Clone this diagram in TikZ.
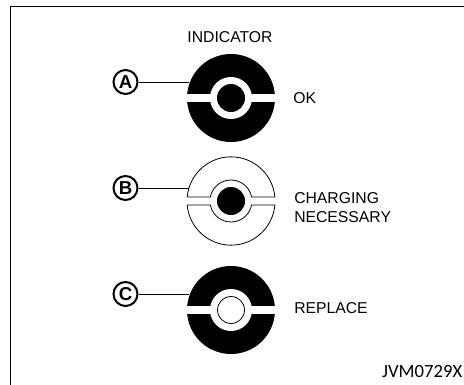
\documentclass[tikz,border=0pt]{standalone}
\usepackage{fontspec}
\setmainfont{Liberation Sans}
\newfontfamily\codefont{Carlito}
\usetikzlibrary{calc}
\tikzset{
	tag/.style={circle, draw, line width=1.5pt, inner sep=0pt, minimum size=18pt, font=\fontsize{14pt}{14pt}\selectfont\bfseries},
	lbl/.style={align=left, anchor=west, inner sep=0pt, font=\fontsize{11.8pt}{14pt}\selectfont},
	wire/.style={line width=0.6pt}
}
% black indicator with white band and ring
\newcommand{\solidEye}[1]{
	\fill[black] (#1) circle (44);
	\fill[white] ($(#1)+(-46,-4.2)$) rectangle ($(#1)+(46,4.2)$);
	\fill[white] (#1) circle (21);
}
\begin{document}
\begin{tikzpicture}[x=0.75pt, y=-0.75pt]
	\useasboundingbox (0,0) rectangle (464,385);
	\draw[line width=1.2pt] (10.5,385) -- (10.5,6.5) -- (464,6.5);
	\coordinate (eyeA) at (231,98);
	\coordinate (eyeB) at (231,201);
	\coordinate (eyeC) at (231,310);
	\node[lbl, anchor=center] (title) at (230,37) {INDICATOR};
	% A
	\solidEye{eyeA}
	\fill[black] (eyeA) circle (14);
	\node[tag] (tagA) at (125.5,82) {A};
	\coordinate (endA) at (189,82);
	\draw[wire] (tagA) -- (endA);
	\node[lbl] (textA) at (293,98) {OK};
	% B
	\draw[wire] ($(eyeB)+(-43.8,-4)$) arc[start angle=185, end angle=355, radius=44] -- ($(eyeB)+(20.6,-4)$) arc[start angle=349, end angle=191, radius=21] -- cycle;
	\draw[wire] ($(eyeB)+(-43.8,4)$) arc[start angle=175, end angle=5, radius=44] -- ($(eyeB)+(20.6,4)$) arc[start angle=11, end angle=169, radius=21] -- cycle;
	\fill[black] (eyeB) circle (14);
	\node[tag] (tagB) at (125.5,188) {B};
	\coordinate (endB) at (189,188);
	\draw[wire] (tagB) -- (endB);
	\node[lbl] (textB) at (294,207.5) {CHARGING\\NECESSARY};
	% C
	\solidEye{eyeC}
	\draw[wire] (eyeC) circle (13.5);
	\node[tag] (tagC) at (125.5,294) {C};
	\coordinate (endC) at (189,294);
	\draw[wire] (tagC) -- (endC);
	\node[lbl] (textC) at (294,308) {REPLACE};
	\node[anchor=east, inner sep=0pt, font=\fontsize{14pt}{16pt}\selectfont\codefont] (code) at (462.5,371.5) {JVM0729X};
\end{tikzpicture}
\end{document}
